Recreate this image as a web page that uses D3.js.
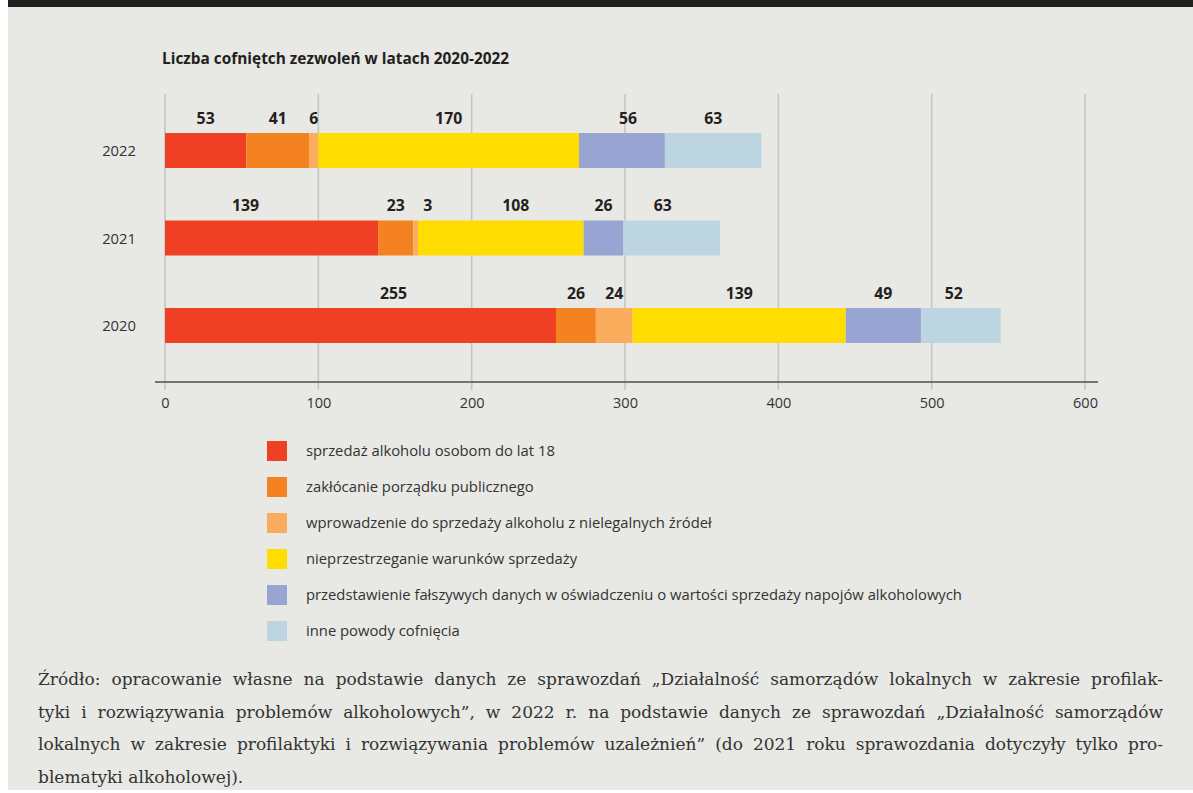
<!DOCTYPE html>
<html lang="pl">
<head>
<meta charset="utf-8">
<script src="https://cdn.jsdelivr.net/npm/d3@7"></script>
<style>
  html, body { margin: 0; padding: 0; background: #ffffff; }
  svg { display: block; }
</style>
</head>
<body>
<svg id="chart" width="1193" height="793"></svg>
<script>
// Revoked permits by reason, 2020–2022
const years = ["2022", "2021", "2020"];
const reasons = [
  "sprzedaż alkoholu osobom do lat 18",
  "zakłócanie porządku publicznego",
  "wprowadzenie do sprzedaży alkoholu z nielegalnych źródeł",
  "nieprzestrzeganie warunków sprzedaży",
  "przedstawienie fałszywych danych w oświadczeniu o wartości sprzedaży napojów alkoholowych",
  "inne powody cofnięcia"
];
const values2022 = [53, 41, 6, 170, 56, 63];
const values2021 = [139, 23, 3, 108, 26, 63];
const values2020 = [255, 26, 24, 139, 49, 52];
const xTicks = [0, 100, 200, 300, 400, 500, 600];

const title = "Liczba cofniętch zezwoleń w latach 2020-2022";
const sourceLines = [
  "Źródło: opracowanie własne na podstawie danych ze sprawozdań „Działalność samorządów lokalnych w zakresie profilak-",
  "tyki i rozwiązywania problemów alkoholowych”, w 2022 r. na podstawie danych ze sprawozdań „Działalność samorządów",
  "lokalnych w zakresie profilaktyki i rozwiązywania problemów uzależnień” (do 2021 roku sprawozdania dotyczyły tylko pro-",
  "blematyki alkoholowej)."
];

const colors = ["#f04023", "#f58220", "#fbad5e", "#ffdd00", "#98a5d3", "#bdd5e0"];

// hand-placed shifts (px) for a few value labels so they do not crowd
const labelShift = { "2022-4": 6, "2021-0": -26, "2021-2": 12, "2021-3": 15, "2021-5": -9, "2020-0": 33, "2020-5": -7 };

const rows = { "2022": values2022, "2021": values2021, "2020": values2020 };
const table = years.map(y => {
  const o = { year: y };
  reasons.forEach((r, i) => { o[r] = rows[y][i]; });
  return o;
});

const svg = d3.select("#chart");
const sans = "'Open Sans', sans-serif";

// page panel and top band
svg.append("rect").attr("x", 8).attr("y", 0).attr("width", 1185).attr("height", 790).attr("fill", "#e8e8e4");
svg.append("rect").attr("x", 8).attr("y", 0).attr("width", 1185).attr("height", 7).attr("fill", "#231f20");

// title
svg.append("text")
  .attr("x", 162).attr("y", 64)
  .attr("font-family", sans).attr("font-size", 15.4).attr("font-weight", 700)
  .attr("fill", "#231f20")
  .text(title);

const x = d3.scaleLinear().domain([0, 600]).range([165, 1085]);
const y = d3.scaleBand().domain(years).range([106.75, 369.25]).paddingInner(0.6).paddingOuter(0.3);

// vertical gridlines
svg.append("g").selectAll("line").data(xTicks).join("line")
  .attr("x1", d => x(d)).attr("x2", d => x(d))
  .attr("y1", 94).attr("y2", 390)
  .attr("stroke", "#c5c5c5").attr("stroke-width", 1.6);

// baseline
svg.append("line")
  .attr("x1", 155).attr("x2", 1098).attr("y1", 382).attr("y2", 382)
  .attr("stroke", "#4d4d4d").attr("stroke-width", 1.6);

// x tick labels
const xAxis = svg.append("g").attr("transform", "translate(0,398)")
  .call(d3.axisBottom(x).tickValues(xTicks).tickSize(0).tickPadding(0).tickFormat(d3.format("d")));
xAxis.select(".domain").remove();
xAxis.selectAll("text").attr("font-family", sans).attr("font-size", 14.5).attr("fill", "#333");

// year labels
const yAxis = svg.append("g").attr("transform", "translate(136,1)")
  .call(d3.axisLeft(y).tickSize(0).tickPadding(0));
yAxis.select(".domain").remove();
yAxis.selectAll("text").attr("font-family", sans).attr("font-size", 14.8).attr("fill", "#333");

// stacked bars
const series = d3.stack().keys(reasons)(table);
const groups = svg.append("g").selectAll("g").data(series).join("g")
  .attr("fill", (d, i) => colors[i]);
groups.selectAll("rect").data(d => d).join("rect")
  .attr("x", d => x(d[0]))
  .attr("y", d => y(d.data.year))
  .attr("width", d => x(d[1]) - x(d[0]))
  .attr("height", y.bandwidth());

// value labels above each segment
groups.selectAll("text").data((d, i) => d.map(s => ({ s, key: d.key, i }))).join("text")
  .attr("x", d => x((d.s[0] + d.s[1]) / 2) + (labelShift[d.s.data.year + "-" + d.i] || 0))
  .attr("y", d => y(d.s.data.year) - 9.5)
  .attr("text-anchor", "middle")
  .attr("font-family", sans).attr("font-size", 15.8).attr("font-weight", 700)
  .attr("fill", "#231f20")
  .text(d => d.s.data[d.key]);

// legend
const legend = svg.append("g").selectAll("g").data(reasons).join("g")
  .attr("transform", (d, i) => `translate(267,${441 + i * 36})`);
legend.append("rect").attr("width", 20).attr("height", 20).attr("fill", (d, i) => colors[i]);
legend.append("text")
  .attr("x", 39).attr("y", 15)
  .attr("font-family", sans).attr("font-size", 14.8).attr("fill", "#333")
  .text(d => d);

// source note, justified except the last line
const serif = "'DejaVu Serif', serif";
const left = 38, right = 1163;
sourceLines.forEach((line, li) => {
  const t = svg.append("text")
    .attr("y", 685 + li * 32.5)
    .attr("font-family", serif).attr("font-size", 17).attr("fill", "#333");
  const words = line.split(" ");
  const spans = words.map(w => t.append("tspan").text(w));
  const widths = spans.map(s => s.node().getComputedTextLength());
  const total = d3.sum(widths);
  const last = li === sourceLines.length - 1;
  const gap = last ? 5.5 : (right - left - total) / (words.length - 1);
  let cx = left;
  spans.forEach((s, i) => { s.attr("x", cx); cx += widths[i] + gap; });
});
</script>
</body>
</html>
